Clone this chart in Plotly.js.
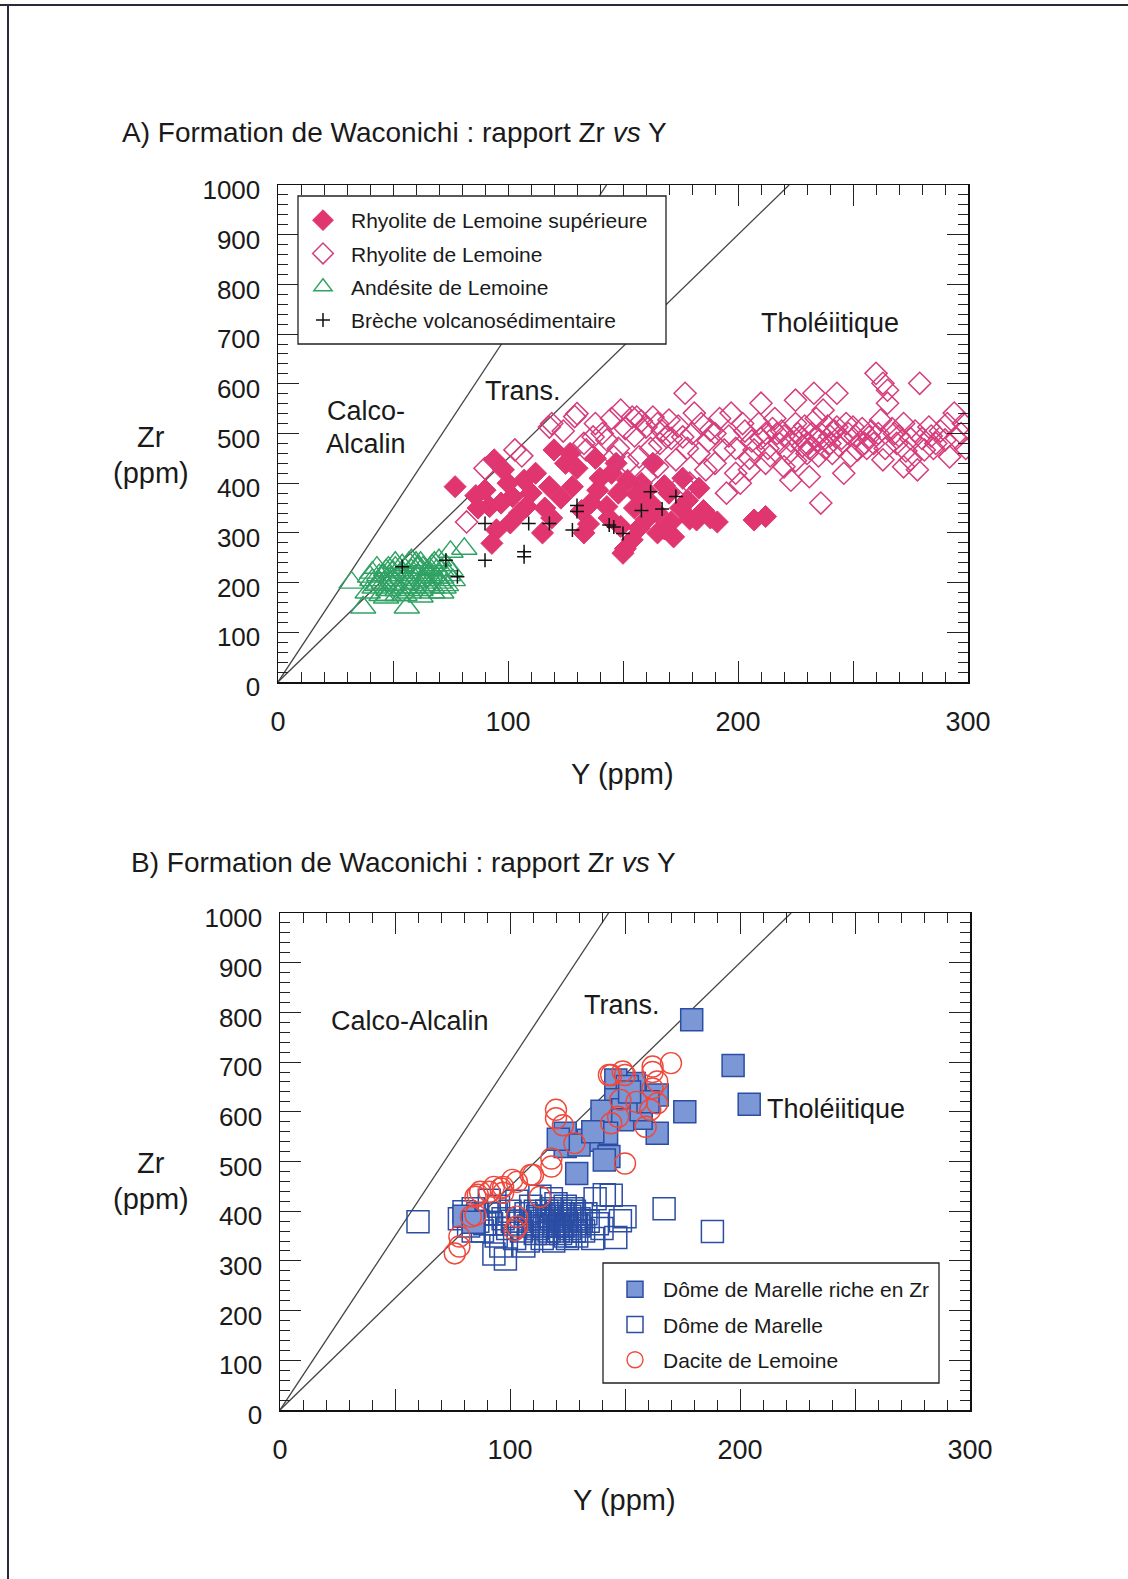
<!DOCTYPE html>
<html><head><meta charset="utf-8">
<script src="https://cdn.plot.ly/plotly-3.0.1.min.js"></script>
<style>html,body{margin:0;padding:0;background:#fff;}#chart{width:1128px;height:1579px;}</style>
</head><body><div id="chart"></div>
<script>
// ---------- DATA: panel A ----------
const supY  = [77,94,90,98,92,95,93,102,107,108,105,118,115,120,125,128,133,139,143,149,150,154,152,160,165,168,179,182,191,207,212,135,151,145,148,155,158,162,165,170,172,175,157,140,136,130,112,110,100,86,116,123,132,147,185,178,168,144,160,
  138,127,163,176,183,188,171,156,119,101,97,87];
const supZr = [393,447,386,427,353,306,279,373,406,353,340,393,300,467,440,393,300,386,353,313,259,286,406,326,300,308,328,326,322,326,333,318,268,420,380,350,400,360,340,380,292,350,310,410,360,430,420,380,400,375,350,370,345,440,345,365,395,330,385,
  450,460,440,410,390,330,322,378,330,320,360,350];

const rhyY  = [82,90,103,106,119,129,137,149,154,160,165,143,134,146,152,157,165,160,118,124,130,
  170,181,166,176,188,197,210,202,194,183,173,186,179,195,201,205,207,217,225,223,220,227,233,237,236,231,230,240,243,246,243,250,252,
  260,263,265,279,262,265,263,257,269,272,275,278,283,286,291,294,292,281,272,290,177,176,169,163,156,
  210,213,215,218,222,225,228,232,235,238,242,245,212,220,230,240,235,205,225,248,255,258,268,275,284,297,299,190,199,212,
  133,138,141,145,148,151,155,158,162,167,171,174,178,180,184,187,190,192,196,199,
  203,206,209,214,216,219,223,226,229,231,234,236,239,241,244,247,249,251,254,256,259,261,
  264,267,270,273,277,280,285,288,295,298];
const rhyZr = [322,430,467,455,520,534,493,547,533,513,520,487,467,453,440,453,433,413,513,505,540,
  527,541,480,493,507,541,561,520,467,460,447,427,400,380,400,427,467,500,567,406,433,493,581,547,360,413,460,480,581,420,513,513,467,
  621,601,587,601,527,561,447,493,480,520,447,427,513,480,520,541,453,467,433,487,581,400,493,533,533,
  490,470,510,480,460,520,475,500,485,470,505,490,500,495,480,495,455,450,445,500,480,505,500,490,495,500,470,440,420,440,
  480,520,500,530,470,510,495,525,470,505,490,515,470,500,520,485,500,530,495,470,
  505,485,520,455,530,505,485,500,515,470,530,500,515,460,475,520,455,495,510,470,480,500,
  470,510,495,465,505,490,470,505,490,520];

const andY  = [32,37,56,75,81,39,41,42,44,45,46,47,48,49,50,51,52,53,54,55,56,57,58,59,60,61,62,63,64,65,66,67,68,69,70,71,72,73,74,76,43,47,51,55,59,63,67,71,44,50,58,62,66,70,40,
  41,43,46,48,50,52,54,57,59,61,63,65,67,69,71,73,75,62,48,56];
const andZr = [200,150,150,262,268,180,205,190,215,175,200,225,185,210,195,230,175,215,235,190,205,180,225,200,240,215,185,230,205,195,220,180,240,210,200,225,190,235,215,205,230,170,240,175,210,195,235,180,198,222,245,172,228,245,212,
  220,195,215,230,205,185,220,240,190,230,205,215,190,225,210,195,225,240,175,198];

const brecY  = [54,73,78,90,90,107,107,109,118,128,130,130,144,146,150,158,162,167,173];
const brecZr = [232,245,212,245,319,262,252,319,319,306,355,343,316,312,299,345,383,348,373];

// ---------- DATA: panel B ----------
const zrY  = [179,197,204,176,164,164,157,154,146,151,146,140,149,149,142,157,124,124,134,143,141,129,130,160,152,80,84,121,136];
const zrZr = [785,693,615,600,557,634,587,657,664,651,624,601,604,584,557,604,557,530,543,510,503,476,533,620,640,390,378,545,560];

const marY  = [60,167,188,146,148,144,137,98,93,150,141,
  78,80,82,84,86,88,90,91,92,94,95,97,99,100,102,103,104,105,107,108,109,110,111,112,113,114,115,116,117,118,119,120,121,122,123,124,125,126,127,128,129,130,131,132,134,136,138,140,96,106,118,86,
  115,118,120,122,124,126,128,130,125,119,
  112,114,116,117,119,121,122,123,124,126,127,128,129,131,133,111,113,108,101,89,84,94];
const marZr = [379,405,359,347,381,432,425,304,314,389,433,
  385,399,370,405,380,360,395,422,375,350,410,385,365,400,345,420,380,360,395,340,410,375,355,390,430,345,370,400,360,385,340,415,370,355,395,380,345,365,405,385,350,370,395,360,380,345,375,365,330,330,425,395,
  390,405,395,380,410,390,400,385,375,370,
  365,380,355,390,375,360,400,370,350,380,395,360,375,380,395,400,385,370,380,375,360,395];

const dacY  = [170,162,162,164,162,149,144,148,147,159,120,120,123,128,118,164,150,150,143,118,109,103,97,93,87,85,113,83,103,103,78,78,76,85,86,91,96,101,110,102,97,144,161,155];
const dacZr = [698,691,680,661,647,681,674,624,590,570,604,587,573,537,506,617,496,674,674,490,473,459,449,449,439,429,429,389,389,369,349,329,315,392,433,439,446,463,473,362,437,577,604,620];

// Discriminant lines Zr/Y
const lineRatios = [7, 4.5];
const zrMax = 1000, yMax = 300;

// Tick labels
const xTickVals = [0,50,100,150,200,250,300];
const xTickText = ['0','','100','','200','','300'];
const yTickVals = [0,100,200,300,400,500,600,700,800,900,1000];
const yTickText = yTickVals.map(String);

// ---------- layout helpers ----------
const W = 1128, H = 1579;
const PX = x => x / W, PY = y => 1 - y / H;
const FONT = 'Liberation Sans, Arial, Helvetica, sans-serif';
const TXT = '#1a1a1a';

const pinkFill = '#E0356E', pinkLine = '#D63C7C', green = '#2FA263';
const blueFill = '#7C97D6', blueLine = '#2B4DA3', red = '#F0483A';

function lineTraces(xa, ya) {
  return lineRatios.map(r => ({
    x: [0, zrMax / r], y: [0, zrMax], xaxis: xa, yaxis: ya, mode: 'lines',
    line: {color: '#444', width: 1.3}, showlegend: false, hoverinfo: 'skip'
  }));
}

const traces = [
  ...lineTraces('x', 'y'),
  {x: andY, y: andZr, mode: 'markers', name: 'Andésite de Lemoine', legendrank: 3, legendgroup: 'a3',
   marker: {symbol: 'triangle-up-open', size: 22, color: green, line: {width: 1.4, color: green}}},
  {x: supY, y: supZr, mode: 'markers', name: 'Rhyolite de Lemoine supérieure', legendrank: 1, legendgroup: 'a1',
   marker: {symbol: 'diamond', size: 17, color: pinkFill, line: {width: 1, color: pinkFill}}},
  {x: rhyY, y: rhyZr, mode: 'markers', name: 'Rhyolite de Lemoine', legendrank: 2, legendgroup: 'a2',
   marker: {symbol: 'diamond-open', size: 17, color: pinkLine, line: {width: 1.5, color: pinkLine}}},
  {x: brecY, y: brecZr, mode: 'markers', name: 'Brèche volcanosédimentaire', legendrank: 4, legendgroup: 'a4',
   marker: {symbol: 'cross-thin-open', size: 10, color: '#111', line: {width: 1.5, color: '#111'}}},

  ...lineTraces('x2', 'y2'),
  {x: marY, y: marZr, xaxis: 'x2', yaxis: 'y2', mode: 'markers', name: 'Dôme de Marelle', legend: 'legend2', legendrank: 2, legendgroup: 'b2',
   marker: {symbol: 'square-open', size: 22, color: blueLine, line: {width: 1.5, color: blueLine}}},
  {x: zrY, y: zrZr, xaxis: 'x2', yaxis: 'y2', mode: 'markers', name: 'Dôme de Marelle riche en Zr', legend: 'legend2', legendrank: 1, legendgroup: 'b1',
   marker: {symbol: 'square', size: 22, color: blueFill, line: {width: 1.5, color: blueLine}}},
  {x: dacY, y: dacZr, xaxis: 'x2', yaxis: 'y2', mode: 'markers', name: 'Dacite de Lemoine', legend: 'legend2', legendrank: 3, legendgroup: 'b3',
   marker: {symbol: 'circle-open', size: 21, color: red, line: {width: 1.4, color: red}}}
];

function xAxis(dom, anchor) {
  return {domain: dom, anchor: anchor, range: [0, yMax], tickmode: 'array', tickvals: xTickVals, ticktext: xTickText,
    ticks: 'inside', ticklen: 21, tickwidth: 1, tickcolor: '#222',
    minor: {tickmode: 'linear', tick0: 0, dtick: 10, ticks: 'inside', ticklen: 10, tickwidth: 1, tickcolor: '#222'},
    showline: true, linecolor: '#111', linewidth: 1.5, mirror: 'allticks', showgrid: false, zeroline: false,
    tickfont: {family: FONT, size: 27, color: TXT}, ticklabelstandoff: 15, fixedrange: true};
}
function yAxis(dom, anchor) {
  return {domain: dom, anchor: anchor, range: [0, zrMax], tickmode: 'array', tickvals: yTickVals, ticktext: yTickText,
    ticks: 'inside', ticklen: 21, tickwidth: 1, tickcolor: '#222',
    minor: {tickmode: 'linear', tick0: 0, dtick: 20, ticks: 'inside', ticklen: 10, tickwidth: 1, tickcolor: '#222'},
    showline: true, linecolor: '#111', linewidth: 1.5, mirror: 'allticks', showgrid: false, zeroline: false,
    tickfont: {family: FONT, size: 26, color: TXT}, ticklabelstandoff: 11, ticklabelshift: 5, fixedrange: true};
}

function ann(text, x, y, size, xanchor) {
  return {text: text, x: PX(x), y: PY(y), xref: 'paper', yref: 'paper', showarrow: false,
    xanchor: xanchor || 'center', yanchor: 'middle', font: {family: FONT, size: size, color: TXT}};
}

const layout = {
  width: W, height: H, autosize: false, margin: {l: 0, r: 0, t: 0, b: 0, pad: 0},
  paper_bgcolor: '#fff', plot_bgcolor: 'rgba(0,0,0,0)', font: {family: FONT, color: TXT},
  xaxis: xAxis([PX(278), PX(968)], 'y'),
  yaxis: yAxis([PY(682), PY(185)], 'x'),
  xaxis2: xAxis([PX(280), PX(970)], 'y2'),
  yaxis2: yAxis([PY(1410), PY(913)], 'x2'),
  legend: {x: PX(295), y: PY(200), xanchor: 'left', yanchor: 'top', bgcolor: 'rgba(0,0,0,0)', borderwidth: 0,
    font: {family: FONT, size: 21, color: TXT}, traceorder: 'grouped', tracegroupgap: 3, itemwidth: 46},
  legend2: {x: PX(607), y: PY(1269), xanchor: 'left', yanchor: 'top', bgcolor: 'rgba(0,0,0,0)', borderwidth: 0,
    font: {family: FONT, size: 21, color: TXT}, traceorder: 'grouped', tracegroupgap: 5, itemwidth: 46},
  shapes: [
    {type: 'rect', xref: 'paper', yref: 'paper', x0: PX(298), x1: PX(666), y0: PY(344), y1: PY(196),
     fillcolor: '#fff', line: {color: '#222', width: 1.3}, layer: 'above'},
    {type: 'rect', xref: 'paper', yref: 'paper', x0: PX(603), x1: PX(939), y0: PY(1383), y1: PY(1263),
     fillcolor: '#fff', line: {color: '#222', width: 1.3}, layer: 'above'},
    {type: 'line', xref: 'paper', yref: 'paper', x0: 0, x1: 1, y0: PY(5), y1: PY(5), line: {color: '#2a2a3a', width: 2}},
    {type: 'line', xref: 'paper', yref: 'paper', x0: PX(8), x1: PX(8), y0: PY(5), y1: 0, line: {color: '#2a2a3a', width: 2}}
  ],
  annotations: [
    ann('A) Formation de Waconichi : rapport Zr <i>vs</i> Y', 120, 133, 28, 'left'),
    ann('B) Formation de Waconichi : rapport Zr <i>vs</i> Y', 129, 863, 28, 'left'),
    ann('Y (ppm)', 622, 774, 29), ann('Zr', 151, 437, 29), ann('(ppm)', 151, 473, 29),
    ann('Y (ppm)', 624, 1500, 29), ann('Zr', 151, 1163, 29), ann('(ppm)', 151, 1199, 29),
    ann('Calco-', 366, 411, 27), ann('Alcalin', 366, 444, 27), ann('Trans.', 523, 391, 27), ann('Tholéiitique', 830, 323, 27),
    ann('Calco-Alcalin', 410, 1021, 27), ann('Trans.', 622, 1005, 27), ann('Tholéiitique', 765, 1109, 27, 'left')
  ]
};

Plotly.newPlot('chart', traces, layout, {staticPlot: true, displayModeBar: false});
</script></body></html>
